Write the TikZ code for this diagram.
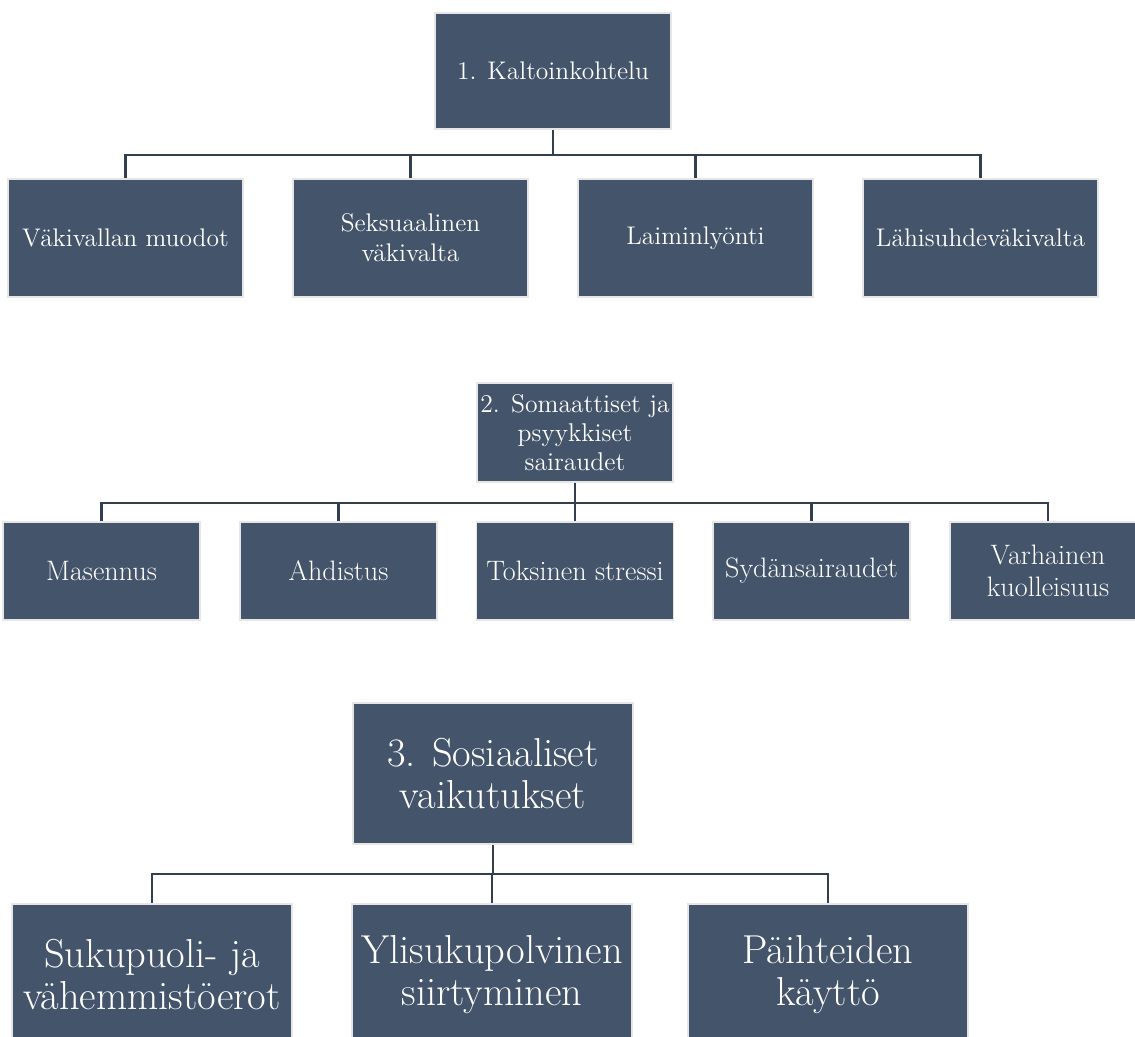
\documentclass[tikz,border=0pt]{standalone}
\usepackage{fontspec}
\definecolor{boxfill}{HTML}{44546A}
\definecolor{boxrim}{HTML}{E7E6E6}
\definecolor{linkcol}{HTML}{323F4F}
\begin{document}
\begin{tikzpicture}[x=0.02cm, y=-0.02cm,
    topic/.style={rectangle, draw=boxrim, fill=boxfill, line width=1.1pt, text=white, align=center, inner sep=0pt, font=\fontsize{14.5}{17}\selectfont},
    item/.style={topic, minimum width=3.94cm, minimum height=1.96cm, font=\fontsize{16}{18.5}\selectfont},
    big/.style={topic, minimum width=5.6cm, minimum height=2.82cm, font=\fontsize{23}{24}\selectfont},
    link/.style={draw=linkcol, line width=1.2pt},
]
\clip (0,0) rectangle (1135,1036);
\fill[white] (0,0) rectangle (1135,1036);
% 1. group
\node[topic, minimum width=4.72cm, minimum height=2.32cm] (k0) at (553,71) {1. Kaltoinkohtelu};
\node[topic, minimum width=4.7cm, minimum height=2.36cm] (k1) at (125.5,238) {Väkivallan muodot};
\node[topic, minimum width=4.7cm, minimum height=2.36cm] (k2) at (410.5,238) {Seksuaalinen\\väkivalta};
\node[topic, minimum width=4.7cm, minimum height=2.36cm] (k3) at (695.5,238) {Laiminlyönti};
\node[topic, minimum width=4.7cm, minimum height=2.36cm] (k4) at (980.5,238) {Lähisuhdeväkivalta};
\draw[link] (k0.south) -- ++(0,25) -| (k1.north);
\draw[link] (k0.south) -- ++(0,25) -| (k2.north);
\draw[link] (k0.south) -- ++(0,25) -| (k3.north);
\draw[link] (k0.south) -- ++(0,25) -| (k4.north);
% 2. group
\node[topic, minimum width=3.92cm, minimum height=1.98cm, font=\fontsize{14.6}{16.5}\selectfont] (s0) at (575,432.5) {2. Somaattiset ja\\psyykkiset\\sairaudet};
\node[item] (s1) at (101.5,571) {Masennus};
\node[item] (s2) at (338.5,571) {Ahdistus};
\node[item] (s3) at (575,571) {Toksinen stressi};
\node[item] (s4) at (811.5,571) {Sydänsairaudet};
\node[item] (s5) at (1048,571) {Varhainen\\kuolleisuus};
\draw[link] (s0.south) -- ++(0,20) -| (s1.north);
\draw[link] (s0.south) -- ++(0,20) -| (s2.north);
\draw[link] (s0.south) -- ++(0,20) -| (s3.north);
\draw[link] (s0.south) -- ++(0,20) -| (s4.north);
\draw[link] (s0.south) -- ++(0,20) -| (s5.north);
% 3. group
\node[big] (v0) at (493,773.5) {3. Sosiaaliset\\vaikutukset};
\node[big] (v1) at (152,974.5) {Sukupuoli- ja\\vähemmistöerot};
\node[big] (v2) at (492,974.5) {Ylisukupolvinen\\siirtyminen};
\node[big] (v3) at (828,974.5) {Päihteiden\\käyttö};
\draw[link] (v0.south) -- ++(0,29) -| (v1.north);
\draw[link] (v0.south) -- ++(0,29) -| (v2.north);
\draw[link] (v0.south) -- ++(0,29) -| (v3.north);
\end{tikzpicture}
\end{document}
